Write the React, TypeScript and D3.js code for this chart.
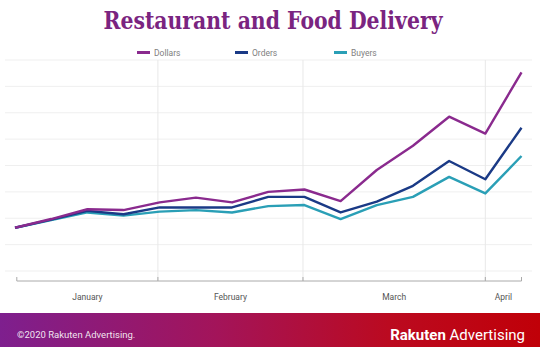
import React from "react";
import * as d3 from "d3";

const weeks = d3.range(15);
const dollars = [1.64, 1.97, 2.34, 2.31, 2.6, 2.78, 2.6, 3.0, 3.09, 2.65, 3.83, 4.75, 5.85, 5.21, 7.53];
const orders = [1.64, 1.95, 2.28, 2.15, 2.41, 2.41, 2.41, 2.81, 2.81, 2.22, 2.63, 3.23, 4.17, 3.48, 5.43];
const buyers = [1.64, 1.93, 2.22, 2.1, 2.25, 2.31, 2.22, 2.46, 2.5, 1.97, 2.5, 2.81, 3.57, 2.94, 4.36];
const months = ["January", "February", "March", "April"];
const monthBounds = [0.05, 3.95, 7.96, 13, 14];
const gridValues = d3.range(0, 9);

const series = [
  { name: "Dollars", values: dollars, color: "#8a2a8e" },
  { name: "Orders", values: orders, color: "#1a3a86" },
  { name: "Buyers", values: buyers, color: "#2a9fb6" },
];

export default function App() {
  const W = 540, H = 347;
  const x = d3.scaleLinear().domain([0, 14]).range([15, 521.5]);
  const y = d3.scaleLinear().domain([0, 8]).range([271, 60]);
  const line = d3
    .line<number>()
    .x((_, i) => x(weeks[i]))
    .y((d) => y(d));
  const axisY = 281;
  const legendX = [137, 235, 334];

  return (
    <svg
      width={W}
      height={H}
      style={{ position: "absolute", left: 0, top: 0, background: "#fff" }}
      fontFamily="Roboto, 'Noto Sans', sans-serif"
    >
      <defs>
        <linearGradient id="foot" x1="0" x2="1" y1="0" y2="0">
          <stop offset="0" stopColor="#7e1f8e" />
          <stop offset="0.4" stopColor="#a3145a" />
          <stop offset="0.72" stopColor="#bb0a20" />
          <stop offset="1" stopColor="#c00008" />
        </linearGradient>
      </defs>
      <text
        x={273}
        y={29}
        textAnchor="middle"
        fontFamily="'DejaVu Serif', serif"
        fontWeight="bold"
        fontSize={24}
        fill="#7a2480"
        textLength={339}
        lengthAdjust="spacingAndGlyphs"
      >
        Restaurant and Food Delivery
      </text>
      {series.map((s, i) => (
        <g key={s.name}>
          <line x1={legendX[i]} x2={legendX[i] + 13} y1={52.5} y2={52.5} stroke={s.color} strokeWidth={3} />
          <text x={legendX[i] + 17} y={55.5} fontSize={8.5} fill="#808080">
            {s.name}
          </text>
        </g>
      ))}
      {gridValues.map((v) => (
        <line key={v} x1={5} x2={532} y1={y(v)} y2={y(v)} stroke="#efefef" strokeWidth={1} />
      ))}
      {monthBounds.slice(1, 4).map((b) => (
        <line key={b} x1={x(b)} x2={x(b)} y1={60} y2={axisY} stroke="#e8e8e8" strokeWidth={1} />
      ))}
      <line x1={x(monthBounds[0])} x2={x(monthBounds[4])} y1={axisY} y2={axisY} stroke="#aaa" strokeWidth={1} />
      {monthBounds.map((b) => (
        <line key={"t" + b} x1={x(b)} x2={x(b)} y1={axisY - 4} y2={axisY} stroke="#aaa" strokeWidth={1} />
      ))}
      {months.map((m, i) => (
        <text
          key={m}
          x={(x(monthBounds[i]) + x(monthBounds[i + 1])) / 2}
          y={299.5}
          textAnchor="middle"
          fontSize={8.5}
          fill="#555"
        >
          {m}
        </text>
      ))}
      {series
        .slice()
        .reverse()
        .map((s) => (
          <path
            key={s.name}
            d={line(s.values) || ""}
            fill="none"
            stroke={s.color}
            strokeWidth={2.4}
            strokeLinejoin="round"
          />
        ))}
      <rect x={0} y={313} width={W} height={H - 313} fill="url(#foot)" />
      <text x={17} y={338} fontSize={9.5} fill="#fff" fillOpacity={0.9}>
        ©2020 Rakuten Advertising.
      </text>
      <text x={525} y={340} textAnchor="end" fontSize={15} fill="#fff">
        <tspan fontWeight="bold">Rakuten</tspan>
        <tspan> Advertising</tspan>
      </text>
    </svg>
  );
}
